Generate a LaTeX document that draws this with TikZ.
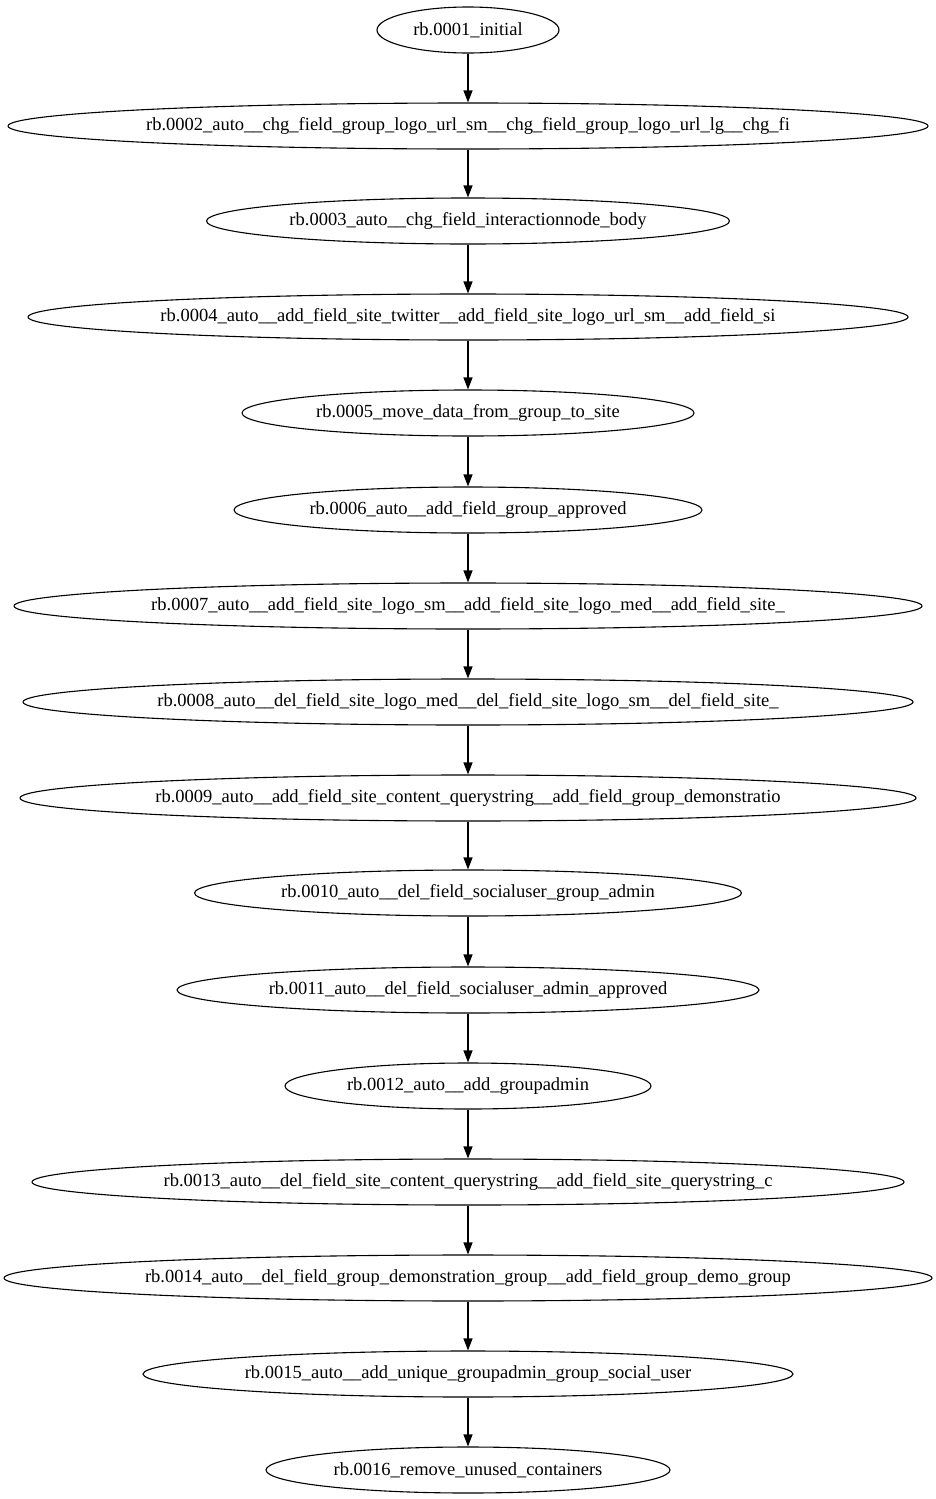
\documentclass[tikz,border=0pt]{standalone}
\usepackage{fontspec}
\setmainfont{Liberation Serif}
\usetikzlibrary{shapes.geometric,arrows.meta}
\begin{document}
\begin{tikzpicture}[x=1pt,y=1pt,
  st/.style={ellipse,draw,line width=1.1pt,inner sep=0pt,minimum height=46pt,font=\fontsize{18.5}{22}\selectfont},
  conn/.style={line width=1.2pt,-{Triangle[length=12pt,width=9pt]}}]
\useasboundingbox (0,0) rectangle (936,-1499);
\node[st,minimum width=182pt] (n1) at (468,-30) {rb.0001\_initial};
\node[st,minimum width=920pt] (n2) at (468,-126) {rb.0002\_auto\_\_chg\_field\_group\_logo\_url\_sm\_\_chg\_field\_group\_logo\_url\_lg\_\_chg\_fi};
\node[st,minimum width=523pt] (n3) at (468,-221) {rb.0003\_auto\_\_chg\_field\_interactionnode\_body};
\node[st,minimum width=880pt] (n4) at (468,-317) {rb.0004\_auto\_\_add\_field\_site\_twitter\_\_add\_field\_site\_logo\_url\_sm\_\_add\_field\_si};
\node[st,minimum width=452pt] (n5) at (468,-413) {rb.0005\_move\_data\_from\_group\_to\_site};
\node[st,minimum width=468pt] (n6) at (468,-510) {rb.0006\_auto\_\_add\_field\_group\_approved};
\node[st,minimum width=908pt] (n7) at (468,-606) {rb.0007\_auto\_\_add\_field\_site\_logo\_sm\_\_add\_field\_site\_logo\_med\_\_add\_field\_site\_};
\node[st,minimum width=890pt] (n8) at (468,-702) {rb.0008\_auto\_\_del\_field\_site\_logo\_med\_\_del\_field\_site\_logo\_sm\_\_del\_field\_site\_};
\node[st,minimum width=896pt] (n9) at (468,-798) {rb.0009\_auto\_\_add\_field\_site\_content\_querystring\_\_add\_field\_group\_demonstratio};
\node[st,minimum width=547pt] (n10) at (468,-893) {rb.0010\_auto\_\_del\_field\_socialuser\_group\_admin};
\node[st,minimum width=582pt] (n11) at (468,-990) {rb.0011\_auto\_\_del\_field\_socialuser\_admin\_approved};
\node[st,minimum width=366pt] (n12) at (468,-1086) {rb.0012\_auto\_\_add\_groupadmin};
\node[st,minimum width=872pt] (n13) at (468,-1182) {rb.0013\_auto\_\_del\_field\_site\_content\_querystring\_\_add\_field\_site\_querystring\_c};
\node[st,minimum width=928pt] (n14) at (468,-1278) {rb.0014\_auto\_\_del\_field\_group\_demonstration\_group\_\_add\_field\_group\_demo\_group};
\node[st,minimum width=650pt] (n15) at (468,-1374) {rb.0015\_auto\_\_add\_unique\_groupadmin\_group\_social\_user};
\node[st,minimum width=404pt] (n16) at (468,-1470) {rb.0016\_remove\_unused\_containers};
\foreach \a/\b in {1/2,2/3,3/4,4/5,5/6,6/7,7/8,8/9,9/10,10/11,11/12,12/13,13/14,14/15,15/16}
  \draw[conn] (n\a.south) -- (n\b.north);
\end{tikzpicture}
\end{document}
